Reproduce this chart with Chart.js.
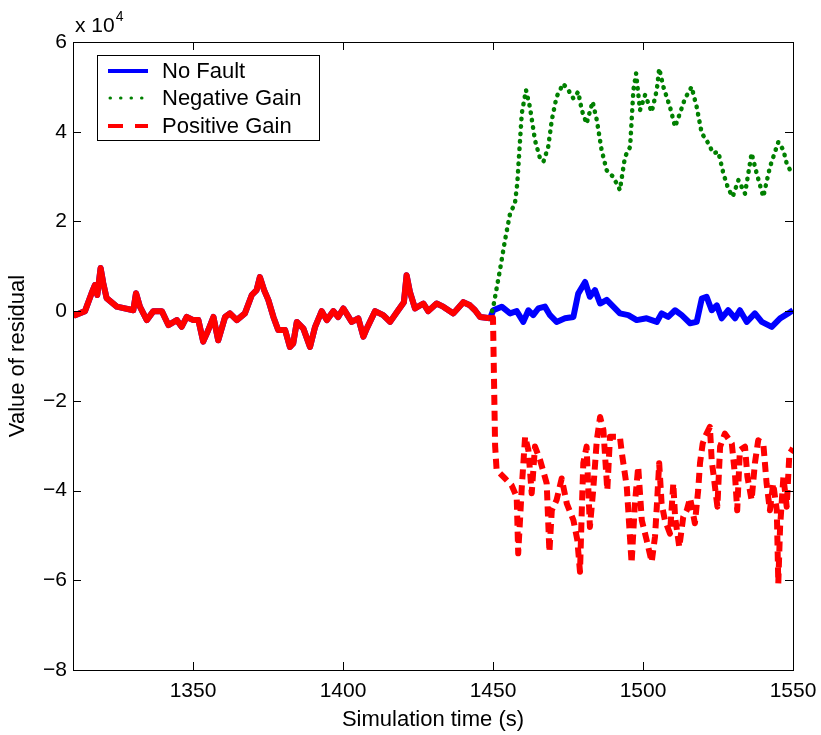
<!DOCTYPE html>
<html>
<head>
<meta charset="utf-8">
<script src="https://cdn.jsdelivr.net/npm/chart.js@4.4.1/dist/chart.umd.min.js"></script>
<style>
  html, body { margin: 0; padding: 0; background: #ffffff; }
  #wrap { width: 821px; height: 735px; }
</style>
</head>
<body>
<div id="wrap"><canvas id="c" width="821" height="735"></canvas></div>
<script>
// ---- Data ----
// Shared pre-fault segment (all three residuals coincide before t = 1450 s)
const preT = [1310, 1310.7, 1314, 1316.2, 1317.3, 1318.1, 1319.2, 1320.1, 1321.2, 1324.6, 1330.1, 1331, 1332.3, 1334.6, 1336.8, 1339.6, 1341.8, 1344.6, 1346.2, 1347.9, 1350.1, 1351.8, 1353.4, 1355.1, 1356.8, 1358.4, 1360.7, 1362.3, 1364.6, 1367.3, 1369.6, 1371.2, 1372.3, 1373.7, 1375.1, 1376.8, 1378.4, 1380.7, 1382.3, 1383.4, 1384.6, 1386.8, 1389, 1390.7, 1392.9, 1394.6, 1396.8, 1398.4, 1400.1, 1402.9, 1405.1, 1406.8, 1407.9, 1410.7, 1413.4, 1415.7, 1418.4, 1420.3, 1421.2, 1422.3, 1424, 1426.8, 1428.4, 1431.2, 1433.4, 1436.8, 1440.1, 1442.3, 1444, 1445.7, 1449];
const preY = [-500, -900, 0, 4000, 5800, 3600, 9600, 6200, 2900, 1000, 200, 4000, 1000, -2000, 0, 0, -3100, -2000, -3500, -1300, -2000, -2000, -6800, -4200, -1300, -6500, -1300, -500, -2000, -500, 3600, 4700, 7600, 4700, 2500, -1300, -4200, -4200, -8000, -7200, -2400, -3900, -8000, -3500, 0, -2000, 0, -1300, 600, -2400, -1600, -5700, -3900, 0, -900, -2400, 200, 2000, 8000, 4300, 600, 1700, 0, 1700, 1000, -500, 2000, 1300, 200, -1300, -1600];

// No Fault after t = 1450 s
const noFaultT = [1450.1, 1452.9, 1455.7, 1457.9, 1460.1, 1461.8, 1463.4, 1465.1, 1467.3, 1469, 1471.2, 1474, 1476.8, 1478.4, 1480.7, 1482.3, 1484, 1485.7, 1487.9, 1490.1, 1492.3, 1495.1, 1497.9, 1501.2, 1504.6, 1506.2, 1508.4, 1510.7, 1512.9, 1515.7, 1517.9, 1519.6, 1521.2, 1522.9, 1524.6, 1526.2, 1528.4, 1530.7, 1532.3, 1534.6, 1537.3, 1539.6, 1542.9, 1545.7, 1548.4, 1550];
const noFaultY = [200, 1000, -500, 0, -2400, 200, -900, 600, 1000, -900, -2400, -1600, -1300, 3900, 6500, 3200, 4700, 1700, 2500, 1000, -500, -900, -2000, -1600, -2400, -500, -1300, 200, -900, -2700, -2400, 2800, 3200, 200, 1300, -1600, 200, -1600, 200, -2400, -500, -2400, -3500, -1600, -500, 200];

// Negative Gain after t = 1450 s
const negGainT = [1450.1, 1452.3, 1454, 1455.7, 1457.3, 1458.1, 1458.8, 1459.6, 1461, 1462.3, 1464, 1465.7, 1466.8, 1468.4, 1469.6, 1471.2, 1473.4, 1475.1, 1476.8, 1478.4, 1479.6, 1481.2, 1483.2, 1484.6, 1486.2, 1487.9, 1490.1, 1492.3, 1494, 1495.7, 1496.8, 1497.7, 1499, 1500.7, 1502.9, 1504.6, 1505.4, 1506.8, 1509, 1510.7, 1512.3, 1514, 1516.2, 1517.9, 1519.6, 1521.2, 1523.4, 1525.1, 1526.8, 1528.4, 1529.9, 1531.8, 1534, 1536.2, 1537.9, 1540.1, 1542.3, 1545.1, 1546.8, 1547.9, 1549.6, 1550];
const negGainY = [1000, 9100, 15800, 21800, 24000, 28500, 35900, 44100, 49300, 45500, 38100, 34000, 33300, 36600, 42600, 47800, 50700, 49300, 47400, 48900, 44800, 41800, 46700, 42600, 35900, 31400, 29900, 27000, 34400, 36600, 49300, 53000, 44800, 48200, 44400, 49300, 54100, 50000, 45500, 41100, 44100, 47400, 50000, 45500, 39600, 38100, 35200, 35500, 30700, 27300, 25500, 29200, 26200, 35200, 30700, 25500, 32100, 37700, 35900, 32900, 30700, 30500];

// Positive Gain after t = 1450 s
const posGainT = [1450, 1450.7, 1451.2, 1454, 1456.2, 1457.9, 1458.4, 1459.6, 1460.7, 1461.8, 1462.9, 1464, 1465.7, 1467.9, 1468.8, 1469.6, 1471.2, 1472.9, 1474.6, 1476.8, 1478.1, 1479, 1479.6, 1480.1, 1481.2, 1482.3, 1483.4, 1484.6, 1485.7, 1486.8, 1487.3, 1488.1, 1489, 1492.3, 1492.9, 1494.6, 1496.2, 1497.3, 1498.4, 1499.6, 1501.2, 1502.9, 1504, 1504.6, 1505.4, 1506.2, 1507.3, 1509, 1510.1, 1510.7, 1512.1, 1513.4, 1514.6, 1515.7, 1517.3, 1518.4, 1519, 1519.9, 1520.7, 1522.3, 1522.9, 1524, 1524.8, 1525.7, 1527.3, 1529.6, 1530.7, 1531.4, 1532.3, 1534, 1534.8, 1536.2, 1537.3, 1538.4, 1540.1, 1541.2, 1542.3, 1543.4, 1544.6, 1545.1, 1545.7, 1546.8, 1547.9, 1548.8, 1549.6, 1550];
const posGainY = [-1500, -30000, -35400, -37300, -38800, -41400, -54000, -39200, -28000, -31000, -40600, -30200, -33200, -38400, -53700, -44400, -42100, -37300, -42900, -46600, -51000, -58100, -44400, -33900, -30200, -48100, -39900, -28800, -23600, -26500, -31700, -39900, -28000, -28000, -31400, -39200, -56200, -42900, -34700, -46600, -51000, -55900, -50300, -43600, -33900, -42900, -46600, -49600, -38400, -45900, -52600, -45900, -44400, -41700, -47300, -39900, -33900, -29500, -28000, -25800, -33200, -39200, -43600, -30200, -27300, -29500, -36900, -44400, -31000, -30200, -36900, -42100, -33900, -28800, -29500, -38400, -44400, -38400, -44400, -60700, -48100, -36900, -43600, -31700, -31000, -30500];

// Tick values and labels
const xTickValues = [1350, 1400, 1450, 1500, 1550];
const yTickValues = [-80000, -60000, -40000, -20000, 0, 20000, 40000, 60000];

const seriesNames = ['No Fault', 'Negative Gain', 'Positive Gain'];
const seriesColors = ['#0000ff', '#008000', '#ff0000'];

// ---- Build datasets ----
function pts(tA, yA) { return tA.map((t, i) => ({ x: t, y: yA[i] })); }
const prePts = pts(preT, preY);

const FONT = '"Liberation Sans", Arial, Helvetica, sans-serif';

const frameAndExtras = {
  id: 'frameAndExtras',
  afterDatasetsDraw(chart) {
    const ctx = chart.ctx;
    const a = chart.chartArea;
    const xs = chart.scales.x, ys = chart.scales.y;
    ctx.save();
    ctx.strokeStyle = '#000';
    ctx.lineWidth = 1;
    ctx.strokeRect(Math.round(a.left) + 0.5, Math.round(a.top) + 0.5,
                   Math.round(a.right - a.left), Math.round(a.bottom - a.top));
    const TL = 8;
    ctx.beginPath();
    xTickValues.forEach(v => {
      const px = Math.round(xs.getPixelForValue(v)) + 0.5;
      ctx.moveTo(px, a.bottom); ctx.lineTo(px, a.bottom - TL);
      ctx.moveTo(px, a.top); ctx.lineTo(px, a.top + TL);
    });
    yTickValues.forEach(v => {
      const py = Math.round(ys.getPixelForValue(v)) + 0.5;
      ctx.moveTo(a.left, py); ctx.lineTo(a.left + TL, py);
      ctx.moveTo(a.right, py); ctx.lineTo(a.right - TL, py);
    });
    ctx.stroke();

    // exponent label "x 10^4"
    ctx.fillStyle = '#000';
    ctx.textBaseline = 'alphabetic';
    ctx.textAlign = 'left';
    ctx.font = '21px ' + FONT;
    ctx.fillText('x 10', 75, 32);
    const w = ctx.measureText('x 10').width;
    ctx.font = '14px ' + FONT;
    ctx.fillText('4', 75 + w + 1, 21);

    // legend box
    const lx = 97, ly = 55, lw = 222, lh = 85;
    ctx.fillStyle = '#fff';
    ctx.fillRect(lx, ly, lw, lh);
    ctx.strokeStyle = '#000';
    ctx.lineWidth = 1;
    ctx.strokeRect(lx + 0.5, ly + 0.5, lw, lh);
    const rows = [71, 98, 126];
    rows.forEach((ry, i) => {
      ctx.save();
      ctx.strokeStyle = seriesColors[i];
      ctx.beginPath();
      if (i === 0) {
        ctx.lineWidth = 4; ctx.setLineDash([]);
      } else if (i === 1) {
        ctx.lineWidth = 3; ctx.lineCap = 'round'; ctx.setLineDash([0.5, 10]);
      } else {
        ctx.lineWidth = 4; ctx.setLineDash([15, 12]);
      }
      ctx.moveTo(i === 1 ? 110 : 108, ry); ctx.lineTo(148, ry);
      ctx.stroke();
      ctx.restore();
      ctx.fillStyle = '#000';
      ctx.font = '22px ' + FONT;
      ctx.textBaseline = 'middle';
      ctx.fillText(seriesNames[i], 162, ry + 1);
    });
    ctx.restore();
  }
};

const chart = new Chart(document.getElementById('c'), {
  type: 'line',
  data: {
    datasets: [
      {
        label: seriesNames[2],
        data: prePts.concat(pts(posGainT, posGainY)),
        borderColor: seriesColors[2],
        borderWidth: 6,
        borderJoinStyle: 'round',
        order: 0,
        segment: {
          borderDash: c => (c.p0.parsed.x >= 1449 ? [10, 6] : [])
        }
      },
      {
        label: seriesNames[1],
        data: prePts.concat(pts(negGainT, negGainY)),
        borderColor: seriesColors[1],
        borderWidth: 4.5,
        borderCapStyle: 'round',
        borderJoinStyle: 'round',
        order: 1,
        segment: {
          borderDash: c => (c.p0.parsed.x >= 1449 ? [0.5, 7] : [])
        }
      },
      {
        label: seriesNames[0],
        data: prePts.concat(pts(noFaultT, noFaultY)),
        borderColor: seriesColors[0],
        borderWidth: 6,
        borderJoinStyle: 'round',
        order: 2
      }
    ]
  },
  options: {
    responsive: false,
    animation: false,
    devicePixelRatio: 1,
    elements: { point: { radius: 0 }, line: { tension: 0, fill: false } },
    layout: { padding: { top: 42, right: 28, left: 0, bottom: 0 } },
    plugins: { legend: { display: false }, tooltip: { enabled: false } },
    scales: {
      x: {
        type: 'linear',
        min: 1310, max: 1550,
        grid: { display: false, drawTicks: false },
        border: { display: false },
        afterBuildTicks: s => { s.ticks = xTickValues.map(v => ({ value: v })); },
        afterFit: s => { s.height = 65; s.paddingLeft = 0; s.paddingRight = 0; },
        ticks: {
          color: '#000', padding: 9, maxRotation: 0, autoSkip: false,
          font: { family: FONT, size: 21 },
          callback: v => String(v)
        },
        title: {
          display: true, text: 'Simulation time (s)', color: '#000',
          font: { family: FONT, size: 22 }, padding: { top: 0, bottom: 2 }
        }
      },
      y: {
        type: 'linear',
        min: -80000, max: 60000,
        grid: { display: false, drawTicks: false },
        border: { display: false },
        afterBuildTicks: s => { s.ticks = yTickValues.map(v => ({ value: v })); },
        afterFit: s => { s.width = 73; s.paddingTop = 0; s.paddingBottom = 0; },
        ticks: {
          color: '#000', padding: 6, autoSkip: false,
          font: { family: FONT, size: 21 },
          callback: v => { const n = v / 10000; return n < 0 ? '\u2212' + Math.abs(n) : String(n); }
        },
        title: {
          display: true, text: 'Value of residual', color: '#000',
          font: { family: FONT, size: 22 }, padding: { top: 5, bottom: 0 }
        }
      }
    }
  },
  plugins: [frameAndExtras]
});
</script>
</body>
</html>
